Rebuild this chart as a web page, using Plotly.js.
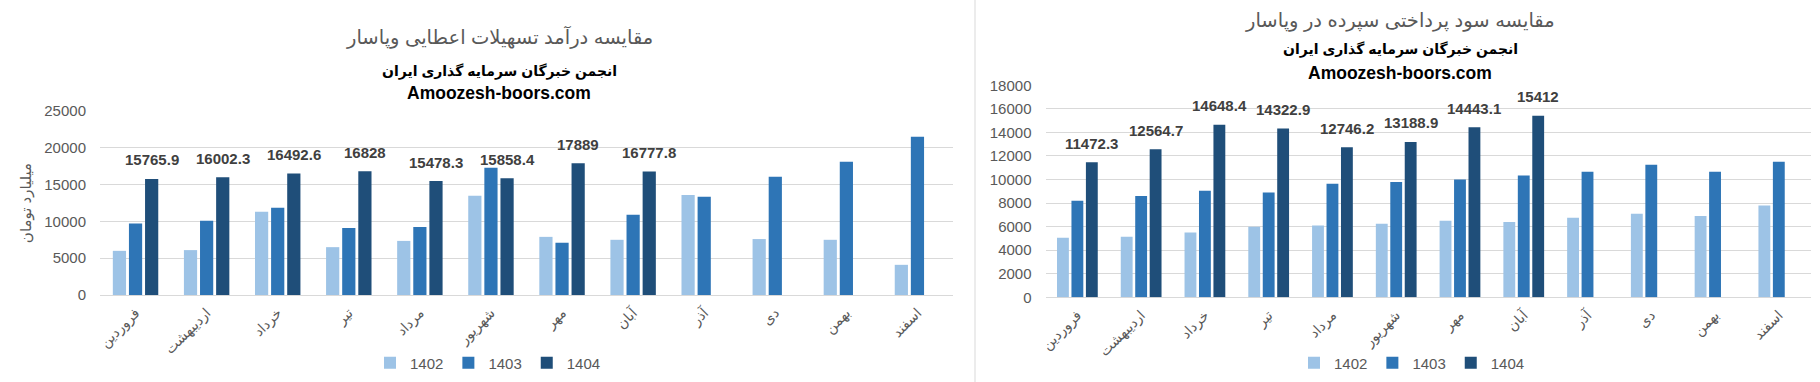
<!DOCTYPE html>
<html>
<head>
<meta charset="utf-8">
<script src="https://cdn.plot.ly/plotly-3.0.1.min.js"></script>
<style>
html,body{margin:0;padding:0;background:#fff;}
#chart{width:1820px;height:382px;}
</style>
</head>
<body>
<div id="chart"></div>
<script>
// ---- data ----
const months = ['فروردین','اردیبهشت','خرداد','تیر','مرداد','شهریور','مهر','آبان','آذر','دی','بهمن','اسفند'];
const years = ['1402','1403','1404'];

// Left chart: loan income (billion toman)
const inc1402 = [6000, 6100, 11300, 6500, 7350, 13500, 7900, 7500, 13600, 7600, 7500, 4100];
const inc1403 = [9700, 10100, 11850, 9100, 9250, 17300, 7100, 10900, 13350, 16050, 18100, 21500];
const inc1404 = [15765.9, 16002.3, 16492.6, 16828, 15478.3, 15858.4, 17889, 16777.8, null, null, null, null];

// Right chart: deposit interest paid
const dep1402 = [5050, 5150, 5500, 6000, 6100, 6250, 6500, 6400, 6750, 7100, 6900, 7800];
const dep1403 = [8200, 8600, 9050, 8900, 9650, 9800, 10000, 10350, 10650, 11250, 10650, 11500];
const dep1404 = [11472.3, 12564.7, 14648.4, 14322.9, 12746.2, 13188.9, 14443.1, 15412, null, null, null, null];

const titleLeft = 'مقایسه درآمد تسهیلات اعطایی وپاسار';
const titleRight = 'مقایسه سود پرداختی سپرده در وپاسار';
const subTitle = 'انجمن خبرگان سرمایه گذاری ایران';
const siteText = 'Amoozesh-boors.com';
const yTitleLeft = 'میلیارد تومان';

// ---- style ----
const W = 1820, H = 382;
const colors = ['#9DC3E6', '#2E75B6', '#1F4E79'];
const FONT = 'Liberation Sans, Arial, DejaVu Sans, sans-serif';
const grey = '#595959';
const BARGAP = 0.32, GROUPGAP = 0.18;

const xDomL = [100 / W, 953 / W];
const xDomR = [1045.5 / W, 1810.7 / W];
const yDomL = [(H - 295) / H, (H - 111) / H];
const yDomR = [(H - 297.3) / H, (H - 85.3) / H];

function barTrace(vals, i, xa, ya, leg) {
  return {
    type: 'bar', x: months, y: vals, name: years[i],
    xaxis: xa, yaxis: ya, legend: leg,
    marker: {color: colors[i], line: {width: 0}},
    hoverinfo: 'x+y+name'
  };
}

const data = [
  barTrace(inc1402, 0, 'x', 'y', 'legend'),
  barTrace(inc1403, 1, 'x', 'y', 'legend'),
  barTrace(inc1404, 2, 'x', 'y', 'legend'),
  barTrace(dep1402, 0, 'x2', 'y2', 'legend2'),
  barTrace(dep1403, 1, 'x2', 'y2', 'legend2'),
  barTrace(dep1404, 2, 'x2', 'y2', 'legend2')
];

function labelAnns(vals, xref, yref, dom) {
  const catW = (dom[1] - dom[0]) * W / months.length;
  const slot = catW * (1 - BARGAP) / 3;
  const out = [];
  vals.forEach((v, i) => {
    if (v === null) return;
    out.push({
      x: months[i], y: v, xref: xref, yref: yref, text: String(v),
      showarrow: false, xanchor: 'center', yanchor: 'middle',
      xshift: slot, yshift: 19,
      font: {family: FONT, size: 15, color: '#404040', weight: 'bold'}
    });
  });
  return out;
}

const heads = [];
[[499, titleLeft, 37, 71, 93], [1400, titleRight, 20, 50, 72.5]].forEach(h => {
  const [cx, t, yT, yS, yA] = h;
  heads.push({text: t, x: cx / W, y: (H - yT) / H, xref: 'paper', yref: 'paper',
    showarrow: false, xanchor: 'center', yanchor: 'middle',
    font: {family: FONT, size: 19.5, color: grey}});
  heads.push({text: '<b>' + subTitle + '</b>', x: cx / W, y: (H - yS) / H, xref: 'paper', yref: 'paper',
    showarrow: false, xanchor: 'center', yanchor: 'middle',
    font: {family: FONT, size: 14, color: '#000'}});
  heads.push({text: '<b>' + siteText + '</b>', x: cx / W, y: (H - yA) / H, xref: 'paper', yref: 'paper',
    showarrow: false, xanchor: 'center', yanchor: 'middle',
    font: {family: FONT, size: 17.5, color: '#000'}});
});

const xCommon = {
  type: 'category', tickangle: -45, showgrid: false, zeroline: false, showline: false,
  ticks: '', ticklabelstandoff: 6,
  tickfont: {family: FONT, size: 14, color: grey}, fixedrange: true
};
const yCommon = {
  showgrid: true, gridcolor: '#D9D9D9', gridwidth: 1,
  zeroline: true, zerolinecolor: '#D9D9D9', zerolinewidth: 1,
  showline: false, ticks: '', ticklabelstandoff: 13, tickformat: 'd',
  tickfont: {family: FONT, size: 15, color: grey}, fixedrange: true
};

const legCommon = {
  orientation: 'h', xanchor: 'center', y: (H - 363) / H, yanchor: 'middle',
  font: {family: FONT, size: 15, color: grey}, itemwidth: 30, bgcolor: 'rgba(0,0,0,0)'
};

const layout = {
  width: W, height: H,
  margin: {l: 0, r: 0, t: 0, b: 0},
  paper_bgcolor: '#fff', plot_bgcolor: 'rgba(0,0,0,0)',
  barmode: 'group', bargap: BARGAP, bargroupgap: GROUPGAP,
  font: {family: FONT, color: grey},
  showlegend: true,
  xaxis: Object.assign({}, xCommon, {domain: xDomL, anchor: 'y'}),
  yaxis: Object.assign({}, yCommon, {domain: yDomL, anchor: 'x', range: [0, 25000], dtick: 5000,
    title: {text: yTitleLeft, standoff: 9, font: {family: FONT, size: 15, color: grey}}}),
  xaxis2: Object.assign({}, xCommon, {domain: xDomR, anchor: 'y2'}),
  yaxis2: Object.assign({}, yCommon, {domain: yDomR, anchor: 'x2', range: [0, 18000], dtick: 2000}),
  legend: Object.assign({}, legCommon, {x: 488 / W}),
  legend2: Object.assign({}, legCommon, {x: 1412 / W}),
  annotations: heads
    .concat(labelAnns(inc1404, 'x', 'y', xDomL))
    .concat(labelAnns(dep1404, 'x2', 'y2', xDomR)),
  shapes: [{type: 'line', xref: 'paper', yref: 'paper', x0: 975 / W, x1: 975 / W, y0: 0, y1: 1,
    line: {color: '#D9D9D9', width: 1}}]
};

Plotly.newPlot('chart', data, layout, {displayModeBar: false, responsive: false});
</script>
</body>
</html>
